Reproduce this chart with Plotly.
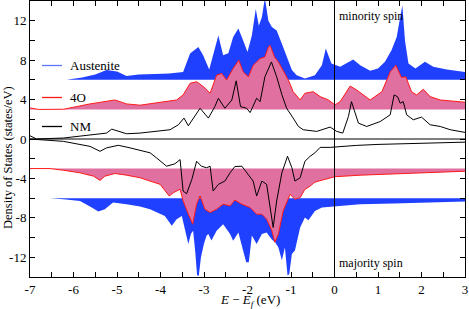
import plotly.graph_objects as go

# ---------------- data (DOS values, states/eV) ----------------
aus_up_x = [-7, -6.5, -6.16, -5.8, -5.5, -5.24, -5.0, -4.78, -4.5, -4.13, -3.8, -3.48, -3.32, -3.13, -3.02, -2.88,
            -2.67, -2.56, -2.44, -2.33, -2.21, -2.10, -2.0, -1.9, -1.81, -1.74, -1.67, -1.6, -1.52, -1.44, -1.33,
            -1.21, -1.1, -0.98, -0.87, -0.68, -0.45, -0.29, -0.2, -0.07, 0.13, 0.43, 0.59, 0.82, 1.0, 1.16, 1.31,
            1.43, 1.51, 1.56, 1.62, 1.7, 1.86, 2.08, 2.27, 2.58, 3.0]
aus_up_y = [0, 0, 0.02, 0.25, 0.55, 1.0, 0.85, 0.38, 0.55, 0.6, 0.65, 0.8, 2.67, 3.33, 2.5, 1.05,
            4.5, 2.5, 2.7, 4.34, 5.2, 4.0, 2.83, 4.5, 7.2, 5.5, 6.36, 8.3, 6.0, 5.35, 5.0,
            3.67, 2.33, 1.0, 0.48, 0.15, 0.48, 1.49, 3.17, 1.66, 1.32, 2.06, 1.49, 0.92, 1.15, 1.83, 3.0,
            4.34, 6.36, 7.54, 4.0, 1.66, 1.15, 1.83, 1.32, 1.05, 0.8]

o4_up_x = [-7, -6.8, -6.23, -5.62, -5.05, -4.78, -4.47, -4.13, -3.63, -3.48, -3.32, -3.17, -3.01, -2.86, -2.71,
           -2.59, -2.48, -2.33, -2.2, -2.1, -1.98, -1.87, -1.71, -1.6, -1.52, -1.48, -1.38, -1.29, -1.18, -1.06,
           -0.95, -0.79, -0.68, -0.49, -0.33, -0.14, 0.01, 0.13, 0.36, 0.51, 0.82, 1.09, 1.28, 1.41, 1.54, 1.64,
           1.77, 1.89, 2.04, 2.2, 2.43, 2.73, 3.0]
o4_up_y = [0.15, 0.0, 0.02, 0.56, 0.96, 0.56, 0.43, 0.63, 0.96, 1.47, 2.65, 2.81, 2.3, 1.64, 3.48,
           3.65, 2.98, 4.16, 5.0, 3.81, 3.31, 4.48, 5.17, 5.33, 6.33, 6.5, 5.33, 4.82, 3.99, 2.98,
           1.8, 0.96, 1.64, 1.8, 1.3, 0.96, 0.46, 0.79, 2.37, 1.97, 0.96, 1.8, 3.81, 4.48, 3.25, 3.31,
           1.8, 1.47, 2.04, 1.3, 0.96, 0.86, 0.73]

nm_up_x = [-7, -6.85, -6.23, -5.62, -5.24, -5.12, -4.78, -4.47, -4.13, -3.78, -3.59, -3.46, -3.36, -3.25, -3.09,
           -2.9, -2.75, -2.67, -2.52, -2.36, -2.26, -2.16, -2.02, -1.94, -1.79, -1.71, -1.6, -1.45, -1.33, -1.21,
           -1.1, -0.95, -0.83, -0.72, -0.41, -0.1, 0.05, 0.19, 0.32, 0.39, 0.47, 0.55, 0.74, 1.05, 1.28, 1.37,
           1.45, 1.51, 1.58, 1.66, 1.81, 2.0, 2.2, 2.43, 2.66, 3.0]
nm_up_y = [0.33, 0.0, 0.1, 0.43, 0.6, 1.0, 0.53, 0.6, 0.77, 0.94, 1.44, 2.12, 1.34, 2.12, 3.12,
           2.12, 3.29, 4.13, 3.12, 3.96, 5.9, 3.29, 3.12, 2.68, 4.13, 3.79, 6.31, 7.82, 6.31, 4.5,
           3.12, 2.12, 1.27, 0.94, 0.77, 1.21, 0.77, 0.6, 2.28, 3.79, 2.62, 1.61, 1.27, 1.77, 2.45, 4.47,
           4.29, 3.63, 3.79, 2.45, 1.95, 2.22, 1.44, 1.27, 0.94, 0.67]

aus_dn_x = [-7, -6.54, -6.23, -5.85, -5.58, -5.43, -5.28, -5.09, -4.78, -4.47, -4.24, -4.05, -3.9, -3.74, -3.63,
            -3.51, -3.41, -3.36, -3.3, -3.25, -3.2, -3.16, -3.12, -3.07, -3.0, -2.94, -2.9, -2.83, -2.71, -2.56,
            -2.4, -2.33, -2.21, -2.1, -2.03, -1.97, -1.9, -1.79, -1.67, -1.56, -1.44, -1.36, -1.29, -1.21, -1.14,
            -1.08, -1.04, -0.98, -0.91, -0.79, -0.68, -0.6, -0.45, -0.29, 0.0, 0.59, 1.35, 2.12, 3.0]
aus_dn_y = [0, 0, 0.1, 0.29, 0.96, 1.36, 1.13, 0.45, 0.62, 0.86, 1.13, 1.46, 1.8, 2.81, 2.13,
            1.8, 3.65, 4.65, 3.6, 3.3, 5.5, 7.8, 7.9, 6.0, 4.6, 3.8, 3.65, 4.3, 3.3, 2.64,
            3.65, 4.32, 3.48, 5.16, 6.5, 6.5, 3.8, 4.65, 3.65, 3.48, 4.2, 4.5, 5.0, 6.3, 5.0,
            7.85, 7.7, 5.66, 5.3, 2.97, 1.96, 2.24, 1.3, 0.96, 0.86, 0.62, 0.55, 0.45, 0.35]

o4_dn_x = [-7, -6.54, -6.23, -5.85, -5.54, -5.39, -5.28, -5.05, -4.78, -4.47, -4.24, -4.01, -3.8, -3.7, -3.55,
           -3.48, -3.36, -3.26, -3.17, -3.09, -2.98, -2.86, -2.71, -2.56, -2.4, -2.29, -2.13, -1.94, -1.79, -1.67,
           -1.56, -1.44, -1.37, -1.29, -1.18, -1.02, -0.91, -0.79, -0.68, -0.56, -0.45, -0.29, 0.0, 0.59, 1.35,
           2.12, 3.0]
o4_dn_y = [0, 0, 0.17, 0.43, 0.77, 1.2, 0.77, 0.5, 0.67, 0.93, 1.27, 1.6, 2.78, 2.44, 2.1,
           3.29, 4.63, 5.64, 3.62, 2.78, 4.13, 4.46, 4.13, 3.62, 3.79, 3.2, 3.62, 3.96, 4.63, 4.63,
           5.13, 6.31, 7.48, 6.65, 4.3, 2.61, 3.12, 2.95, 2.11, 1.78, 1.37, 1.17, 0.83, 0.67, 0.53,
           0.43, 0.27]

nm_dn_x = [-7, -6.23, -5.62, -5.39, -5.24, -4.97, -4.7, -4.4, -4.24, -4.09, -3.86, -3.67, -3.55, -3.48, -3.4,
           -3.28, -3.17, -3.06, -2.94, -2.86, -2.79, -2.67, -2.52, -2.4, -2.29, -2.13, -1.98, -1.87, -1.79,
           -1.67, -1.56, -1.41, -1.33, -1.21, -1.08, -0.98, -0.91, -0.79, -0.68, -0.56, -0.45, -0.33, -0.1,
           0.13, 0.5, 1.0, 1.5, 2.0, 2.5, 3.0]
nm_dn_y = [0.0, 0.24, 0.75, 1.25, 0.9, 0.64, 0.9, 1.25, 1.4, 1.92, 2.76, 2.52, 2.09, 5.28, 5.55,
           4.1, 2.26, 2.76, 2.92, 2.76, 5.28, 4.6, 4.27, 3.43, 2.79, 2.76, 3.6, 4.27, 5.79,
           4.27, 4.6, 8.97, 6.29, 3.43, 1.75, 2.92, 4.27, 3.93, 2.26, 1.75, 1.4, 0.85, 0.85,
           0.75, 0.65, 0.55, 0.5, 0.45, 0.38, 0.32]

legend_labels = ["Austenite", "4O", "NM"]
x_tick_vals = [-7, -6, -5, -4, -3, -2, -1, 0, 1, 2, 3]
x_tick_labels = ["-7", "-6", "-5", "-4", "-3", "-2", "-1", "0", "1", "2", "3"]
y_tick_vals = [-12, -8, -4, 0, 4, 8, 12]
y_tick_labels = ["-12", "-8", "-4", "0", "4", "8", "12"]

# ---------------- styling ----------------
AUS_OFF, O4_OFF = 6, 3
BLUE = "rgb(32,64,255)"
BLUE_LEG = "rgb(90,120,255)"
PINK = "rgb(224,112,160)"
RED = "rgb(255,25,25)"
FONT = "Liberation Serif, Times New Roman, serif"
XMIN, XMAX, YMIN, YMAX = -7, 3, -14, 14

fig = go.Figure()


def band(xs, ys, off, sign, color):
    fig.add_trace(go.Scatter(x=[XMIN, XMAX], y=[off, off], mode="lines",
                             line=dict(width=0), showlegend=False, hoverinfo="skip"))
    fig.add_trace(go.Scatter(x=xs, y=[off + sign * v for v in ys], mode="lines",
                             line=dict(width=0, color=color), fill="tonexty", fillcolor=color,
                             showlegend=False, hoverinfo="skip"))


# fills: blue first, pink on top
band(aus_up_x, aus_up_y, AUS_OFF, 1, BLUE)
band(aus_dn_x, aus_dn_y, -AUS_OFF, -1, BLUE)
band(o4_up_x, o4_up_y, O4_OFF, 1, PINK)
band(o4_dn_x, o4_dn_y, -O4_OFF, -1, PINK)

# red lines
fig.add_trace(go.Scatter(x=o4_up_x, y=[O4_OFF + v for v in o4_up_y], mode="lines",
                         line=dict(color=RED, width=1), showlegend=False))
fig.add_trace(go.Scatter(x=o4_dn_x, y=[-O4_OFF - v for v in o4_dn_y], mode="lines",
                         line=dict(color=RED, width=1), showlegend=False))
# black lines
fig.add_trace(go.Scatter(x=nm_up_x, y=nm_up_y, mode="lines",
                         line=dict(color="black", width=1), showlegend=False))
fig.add_trace(go.Scatter(x=nm_dn_x, y=[-v for v in nm_dn_y], mode="lines",
                         line=dict(color="black", width=1), showlegend=False))

# reference lines
fig.add_shape(type="line", x0=XMIN, x1=XMAX, y0=0, y1=0, line=dict(color="black", width=1), layer="above")
fig.add_shape(type="line", x0=0, x1=0, y0=YMIN, y1=YMAX, line=dict(color="black", width=1), layer="above")

# manual legend (pixel positions converted to paper coords)
PL, PW, PT, PH = 30, 435, 1, 276


def px2paper_x(p):
    return (p - PL) / PW


def px2paper_y(p):
    return (PT + PH - p) / PH


for lab, col, py in zip(legend_labels, [BLUE_LEG, RED, "black"], [65.5, 97.5, 126.5]):
    fig.add_shape(type="line", xref="paper", yref="paper",
                  x0=px2paper_x(42), x1=px2paper_x(62), y0=px2paper_y(py), y1=px2paper_y(py),
                  line=dict(color=col, width=1.3))
    fig.add_annotation(xref="paper", yref="paper", x=px2paper_x(68), y=px2paper_y(py),
                       text=lab, showarrow=False, xanchor="left", yanchor="middle",
                       font=dict(family=FONT, size=13, color="black"))

fig.add_annotation(xref="paper", yref="paper", x=px2paper_x(337), y=px2paper_y(16),
                   text="minority spin", showarrow=False, xanchor="left", yanchor="middle",
                   font=dict(family=FONT, size=12, color="black"))
fig.add_annotation(xref="paper", yref="paper", x=px2paper_x(337), y=px2paper_y(263),
                   text="majority spin", showarrow=False, xanchor="left", yanchor="middle",
                   font=dict(family=FONT, size=12, color="black"))

# axis titles
fig.add_annotation(xref="paper", yref="paper", x=px2paper_x(250), y=px2paper_y(300),
                   text="<i>E</i> − <i>E</i><sub><i>f</i></sub> (eV)", showarrow=False,
                   xanchor="center", yanchor="middle",
                   font=dict(family=FONT, size=13, color="black"))
fig.add_annotation(xref="paper", yref="paper", x=px2paper_x(8), y=px2paper_y(158),
                   text="Density of States (states/eV)", showarrow=False, textangle=-90,
                   xanchor="center", yanchor="middle",
                   font=dict(family=FONT, size=12.5, color="black"))

axis_common = dict(showgrid=False, zeroline=False, showline=True, linecolor="black", linewidth=1,
                   mirror="allticks", ticks="inside", ticklen=5, tickcolor="black", tickwidth=1,
                   tickfont=dict(family=FONT, size=13, color="black"))

fig.update_xaxes(range=[XMIN, XMAX], tickvals=x_tick_vals, ticktext=x_tick_labels,
                 minor=dict(dtick=0.5, tick0=0, ticks="inside", ticklen=5, tickcolor="black", showgrid=False),
                 **axis_common)
fig.update_yaxes(range=[YMIN, YMAX], tickvals=y_tick_vals, ticktext=y_tick_labels,
                 minor=dict(dtick=2, tick0=0, ticks="inside", ticklen=5, tickcolor="black", showgrid=False),
                 **axis_common)

fig.update_layout(width=469, height=309, margin=dict(l=PL, r=469 - PL - PW, t=PT, b=309 - PT - PH),
                  plot_bgcolor="white", paper_bgcolor="white", showlegend=False)

fig.write_html("out.html", config={"displayModeBar": False},
               post_script="document.body.style.margin='0px';document.body.style.padding='0px';")
